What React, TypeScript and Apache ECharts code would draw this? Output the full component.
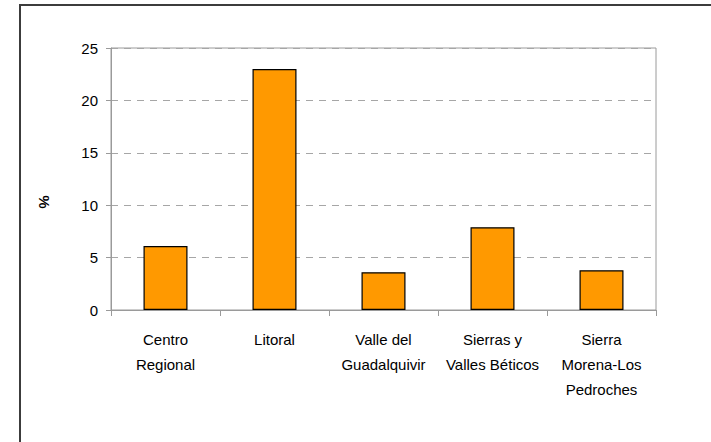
import React, { useEffect, useRef } from "react";
import * as echarts from "echarts";

const categories = [
  "Centro\nRegional",
  "Litoral",
  "Valle del\nGuadalquivir",
  "Sierras y\nValles Béticos",
  "Sierra\nMorena-Los\nPedroches",
];
const values = [6.1, 23.0, 3.6, 7.9, 3.8];
const yTicks = [0, 5, 10, 15, 20, 25];
const yAxisTitle = "%";

const FONT = "'Liberation Sans', Arial, sans-serif";

export default function App() {
  const ref = useRef<HTMLDivElement>(null);
  useEffect(() => {
    document.body.style.margin = "0";
    const chart = echarts.init(ref.current!, null, { renderer: "svg" });
    chart.setOption({
      animation: false,
      backgroundColor: "#ffffff",
      textStyle: { fontFamily: FONT },
      grid: {
        left: 111,
        top: 48,
        right: 55,
        bottom: 132,
        show: true,
        borderColor: "#9a9a9a",
        borderWidth: 1,
        backgroundColor: "transparent",
      },
      graphic: [
        {
          type: "rect",
          shape: { x: 20, y: 5, width: 720, height: 470 },
          style: { fill: "none", stroke: "#3c3c3c", lineWidth: 2 },
          silent: true,
        },
        {
          type: "text",
          x: 44,
          y: 202,
          rotation: -Math.PI / 2,
          style: {
            text: yAxisTitle,
            font: `bold 15px ${FONT}`,
            fill: "#000",
            align: "center",
            verticalAlign: "middle",
          },
          silent: true,
        },
      ],
      xAxis: {
        type: "category",
        data: categories,
        axisLine: { lineStyle: { color: "#9a9a9a", width: 1 } },
        axisTick: { show: true, length: 6, lineStyle: { color: "#9a9a9a" } },
        axisLabel: {
          color: "#000",
          fontSize: 15,
          fontFamily: FONT,
          lineHeight: 25,
          margin: 17,
          interval: 0,
        },
        splitLine: { show: false },
      },
      yAxis: {
        type: "value",
        min: yTicks[0],
        max: yTicks[yTicks.length - 1],
        interval: 5,
        axisLine: { show: true, lineStyle: { color: "#9a9a9a", width: 1 } },
        axisTick: { show: true, length: 5, lineStyle: { color: "#9a9a9a" } },
        axisLabel: { color: "#000", fontSize: 15, fontFamily: FONT, margin: 13 },
        splitLine: {
          show: true,
          lineStyle: { color: "#a6a6a6", type: [7, 6], width: 1 },
        },
      },
      series: [
        {
          type: "bar",
          data: values,
          barWidth: 44,
          itemStyle: { color: "#FF9900", borderColor: "#000", borderWidth: 1.2 },
        },
      ],
    });
    return () => chart.dispose();
  }, []);
  return (
    <div
      ref={ref}
      style={{ position: "fixed", left: 0, top: 0, width: 711, height: 442 }}
    />
  );
}
